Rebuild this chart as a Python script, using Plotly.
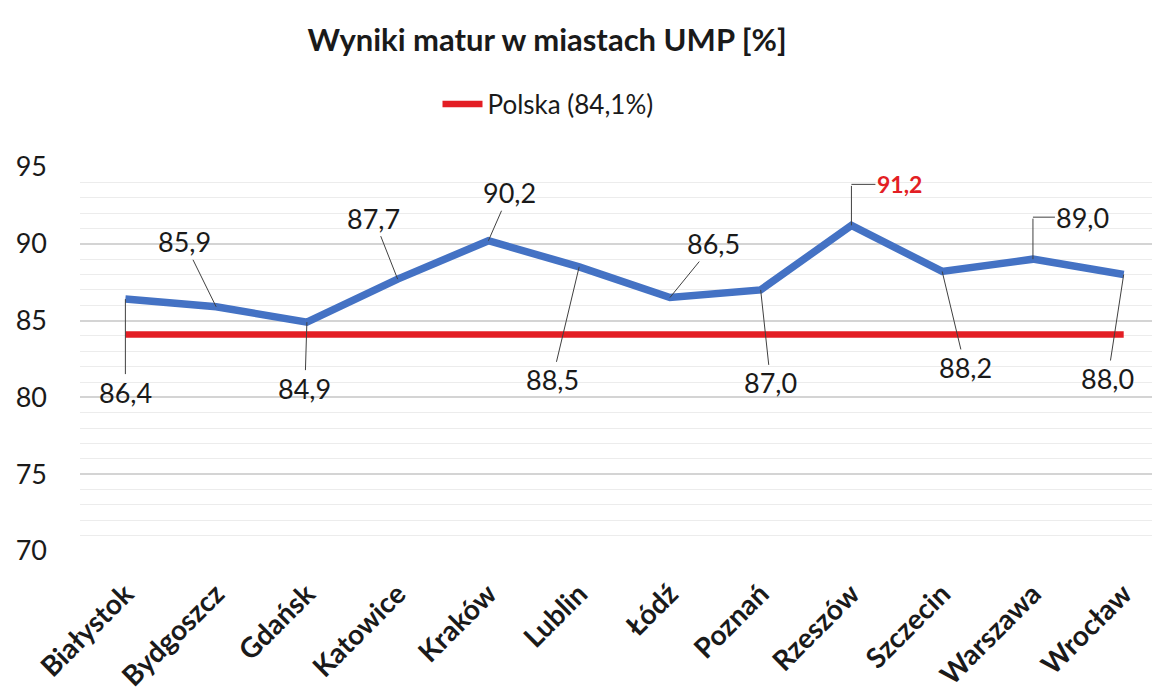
import plotly.graph_objects as go

# ---- data ----
cities = ["Białystok", "Bydgoszcz", "Gdańsk", "Katowice", "Kraków", "Lublin",
          "Łódź", "Poznań", "Rzeszów", "Szczecin", "Warszawa", "Wrocław"]
wyniki = [86.4, 85.9, 84.9, 87.7, 90.2, 88.5, 86.5, 87.0, 91.2, 88.2, 89.0, 88.0]
polska = 84.1
y_ticks = [70, 75, 80, 85, 90, 95]

# ---- label placement (pixels, layout only) ----
# (dx, dy) = text offset from point; elbow = vertical leader height for elbow-style leaders
label_offsets = [(0, 93), (-32, -65), (-2, 66), (-24, -61), (21, -48), (-27, 113),
                 (44, -54), (10, 93), (48, 0), (23, 96), (50, 0), (-16, 104)]
elbows = [0, 0, 0, 0, 0, 0, 0, 0, 41, 0, 42, 0]

FONT = "Lato, 'Open Sans', sans-serif"
BLUE = "#4472C4"
RED = "#E31E24"
LEADER = "#404040"
W, H = 1160, 698
OFF = 8  # page body margin

fig = go.Figure()
fig.add_trace(go.Scatter(
    x=cities, y=[polska] * len(cities), mode="lines",
    line=dict(color=RED, width=6.5), name="Polska (84,1%)", showlegend=True,
    hoverinfo="skip"))
fig.add_trace(go.Scatter(
    x=cities, y=wyniki, mode="lines",
    line=dict(color=BLUE, width=7.5), name="Wyniki", showlegend=False))

max_v = max(wyniki)
for c, v, (ax, ay), el in zip(cities, wyniki, label_offsets, elbows):
    is_max = v == max_v
    txt = f"{v:.1f}".replace(".", ",")
    if is_max:
        txt = f"<b>{txt}</b>"
    font = dict(family=FONT, size=27 if not is_max else 23,
                color=RED if is_max else "#1a1a1a")
    if el:
        # vertical part of the elbow leader
        fig.add_annotation(x=c, y=v, text="", showarrow=True, arrowhead=0,
                           arrowwidth=1, arrowcolor=LEADER, standoff=0,
                           ax=0, ay=-el, font=dict(size=1))
        # horizontal part + label
        fig.add_annotation(x=c, y=v, yshift=el, text=txt, showarrow=True,
                           arrowhead=0, arrowwidth=1, arrowcolor=LEADER,
                           standoff=0, ax=ax, ay=ay, font=font)
    else:
        fig.add_annotation(
            x=c, y=v, text=txt, showarrow=True, arrowhead=0, arrowwidth=1,
            arrowcolor=LEADER, standoff=0, ax=ax, ay=ay, font=font)

fig.update_layout(
    width=W, height=H,
    margin=dict(l=77 - OFF, r=OFF, t=167 - OFF, b=147 + OFF),
    paper_bgcolor="white", plot_bgcolor="white",
    font=dict(family=FONT, color="#1a1a1a"),
    title=dict(text="<b>Wyniki matur w miastach UMP [%]</b>",
               x=(547 - OFF) / W, xanchor="center", xref="container",
               y=1 - (40 - OFF) / H, yanchor="middle", yref="container",
               font=dict(family=FONT, size=31, color="#1a1a1a")),
    legend=dict(orientation="h", x=(548 - OFF) / W, xanchor="center", xref="container",
                y=1 - (104 - OFF) / H, yanchor="middle", yref="container",
                font=dict(family=FONT, size=26, color="#1a1a1a"),
                bgcolor="rgba(0,0,0,0)", itemwidth=40),
    showlegend=True,
)
fig.update_xaxes(
    range=[-0.5, 11.4], showgrid=False, showline=False, zeroline=False,
    tickangle=-45, tickfont=dict(family=FONT, size=28, weight="bold", color="#1a1a1a"),
    ticks="", ticklabelstandoff=20)
fig.update_yaxes(
    range=[70, 95], tickvals=y_ticks, showgrid=True, gridcolor="#d4d4d4", gridwidth=1.5,
    zeroline=False, showline=False, ticks="",
    tickfont=dict(family=FONT, size=27, color="#1a1a1a"), ticklabelstandoff=32,
    minor=dict(dtick=1, showgrid=True, gridcolor="#ececec", gridwidth=1))

fig.write_html("out.html")
